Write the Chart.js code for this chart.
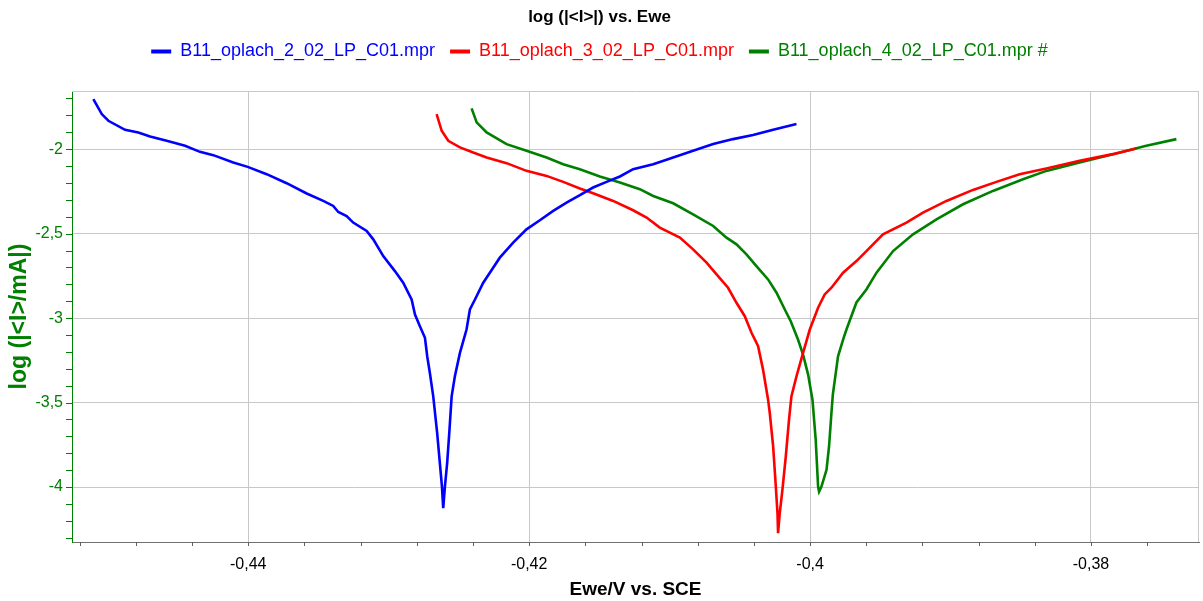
<!DOCTYPE html>
<html><head><meta charset="utf-8">
<script src="https://cdn.jsdelivr.net/npm/chart.js@4/dist/chart.umd.min.js"></script>
<style>html,body{margin:0;padding:0;background:#fff;overflow:hidden}canvas{display:block}</style>
</head><body>
<canvas id="c" width="1203" height="601"></canvas>
<script>
const chartTitle = 'log (|<I>|) vs. Ewe';
const xTitle = 'Ewe/V vs. SCE';
const yTitle = 'log (|<I>/mA|)';
const seriesNames = ['B11_oplach_2_02_LP_C01.mpr', 'B11_oplach_3_02_LP_C01.mpr', 'B11_oplach_4_02_LP_C01.mpr #'];
const seriesColors = ['#0000ff', '#ff0000', '#008000'];

// [Ewe (V), log|I/mA|]
const blueCurve = [
[-0.45103,-1.7035],[-0.45043,-1.7924],[-0.44996,-1.8322],[-0.44877,-1.8855],[-0.44783,-1.9010],
[-0.44699,-1.9247],[-0.44581,-1.9508],[-0.44450,-1.9804],[-0.44344,-2.0160],[-0.44249,-2.0356],
[-0.44107,-2.0789],[-0.44004,-2.1050],[-0.43869,-2.1483],[-0.43727,-2.2017],[-0.43584,-2.2627],
[-0.43466,-2.3066],[-0.43395,-2.3363],[-0.43359,-2.3719],[-0.43300,-2.3956],[-0.43253,-2.4347],
[-0.43157,-2.4846],[-0.43110,-2.5338],[-0.43039,-2.6328],[-0.42956,-2.7218],[-0.42897,-2.7906],
[-0.42837,-2.8897],[-0.42813,-2.9786],[-0.42778,-3.0480],[-0.42742,-3.1168],[-0.42726,-3.2259],
[-0.42707,-3.3244],[-0.42683,-3.4632],[-0.42655,-3.6803],[-0.42636,-3.8582],[-0.42621,-3.9970],
[-0.42612,-4.1251],[-0.42600,-3.9970],[-0.42584,-3.8582],[-0.42569,-3.6803],[-0.42552,-3.4632],
[-0.42529,-3.3445],[-0.42493,-3.2058],[-0.42446,-3.0676],[-0.42422,-2.9490],[-0.42386,-2.8897],
[-0.42327,-2.7906],[-0.42280,-2.7313],[-0.42209,-2.6423],[-0.42114,-2.5534],[-0.42019,-2.4745],
[-0.41924,-2.4211],[-0.41829,-2.3659],[-0.41734,-2.3161],[-0.41639,-2.2728],[-0.41545,-2.2272],
[-0.41449,-2.1939],[-0.41354,-2.1619],[-0.41260,-2.1186],[-0.41117,-2.0890],[-0.40975,-2.0492],
[-0.40833,-2.0101],[-0.40690,-1.9703],[-0.40548,-1.9407],[-0.40406,-1.9170],[-0.40263,-1.8855],
[-0.40097,-1.8517]
];
const redCurve = [
[-0.42659,-1.7924],[-0.42623,-1.8915],[-0.42576,-1.9508],[-0.42493,-1.9899],[-0.42399,-2.0196],
[-0.42303,-2.0492],[-0.42161,-2.0830],[-0.42019,-2.1287],[-0.41876,-2.1584],[-0.41758,-2.1939],
[-0.41639,-2.2331],[-0.41545,-2.2610],[-0.41402,-2.3066],[-0.41260,-2.3618],[-0.41164,-2.4051],
[-0.41070,-2.4644],[-0.40927,-2.5237],[-0.40833,-2.5931],[-0.40737,-2.6720],[-0.40666,-2.7414],
[-0.40584,-2.8203],[-0.40524,-2.9092],[-0.40465,-2.9887],[-0.40417,-3.0871],[-0.40370,-3.1666],
[-0.40335,-3.3048],[-0.40299,-3.4828],[-0.40287,-3.5616],[-0.40263,-3.7597],[-0.40244,-3.9970],
[-0.40232,-4.1548],[-0.40228,-4.2733],[-0.40216,-4.1548],[-0.40197,-4.0165],[-0.40173,-3.8190],
[-0.40150,-3.6014],[-0.40133,-3.4632],[-0.40097,-3.3445],[-0.40050,-3.2058],[-0.40002,-3.0676],
[-0.39943,-2.9389],[-0.39896,-2.8600],[-0.39848,-2.8203],[-0.39765,-2.7313],[-0.39670,-2.6625],
[-0.39599,-2.6032],[-0.39481,-2.5041],[-0.39314,-2.4347],[-0.39196,-2.3754],[-0.39029,-2.3066],
[-0.38840,-2.2414],[-0.38673,-2.1939],[-0.38508,-2.1483],[-0.38318,-2.1145],[-0.38081,-2.0694],
[-0.37844,-2.0297],[-0.37677,-1.9958]
];
const greenCurve = [
[-0.42410,-1.7586],[-0.42374,-1.8416],[-0.42303,-1.9010],[-0.42161,-1.9703],[-0.42019,-2.0101],
[-0.41876,-2.0492],[-0.41758,-2.0890],[-0.41639,-2.1186],[-0.41497,-2.1619],[-0.41354,-2.1975],
[-0.41212,-2.2372],[-0.41117,-2.2770],[-0.40975,-2.3203],[-0.40833,-2.3855],[-0.40690,-2.4549],
[-0.40595,-2.5237],[-0.40524,-2.5634],[-0.40453,-2.6228],[-0.40382,-2.6921],[-0.40299,-2.7710],
[-0.40239,-2.8499],[-0.40180,-2.9490],[-0.40137,-3.0201],[-0.40086,-3.1269],[-0.40050,-3.2159],
[-0.40014,-3.3345],[-0.39983,-3.4828],[-0.39960,-3.7200],[-0.39943,-3.9970],[-0.39936,-4.0266],
[-0.39919,-3.9970],[-0.39883,-3.8979],[-0.39865,-3.7597],[-0.39848,-3.5616],[-0.39838,-3.4531],
[-0.39801,-3.2259],[-0.39765,-3.1269],[-0.39741,-3.0676],[-0.39670,-2.9074],[-0.39599,-2.8303],
[-0.39527,-2.7313],[-0.39409,-2.6032],[-0.39267,-2.5041],[-0.39100,-2.4152],[-0.38911,-2.3262],
[-0.38698,-2.2473],[-0.38484,-2.1779],[-0.38318,-2.1287],[-0.38081,-2.0789],[-0.37844,-2.0297],
[-0.37606,-1.9804],[-0.37392,-1.9407]
];

const xRange = [-0.45255, -0.37231];
const yRange = [-4.325, -1.656];
const xMajorTicks = [-0.44, -0.42, -0.40, -0.38];
const yMajorTicks = [-2, -2.5, -3, -3.5, -4];
const xMinorTicks = [-0.452,-0.448,-0.444,-0.44,-0.436,-0.432,-0.428,-0.424,-0.42,-0.416,-0.412,-0.408,-0.404,-0.4,-0.396,-0.392,-0.388,-0.384,-0.38,-0.376];
const yMinorTicks = [-1.7,-1.8,-1.9,-2,-2.1,-2.2,-2.3,-2.4,-2.5,-2.6,-2.7,-2.8,-2.9,-3,-3.1,-3.2,-3.3,-3.4,-3.5,-3.6,-3.7,-3.8,-3.9,-4,-4.1,-4.2,-4.3];

const fmt = v => String(+v.toFixed(4)).replace('.', ',');
const toPts = arr => arr.map(p => ({x: p[0], y: p[1]}));
const curves = [blueCurve, redCurve, greenCurve];

Chart.defaults.font.family = "'Liberation Sans', Arial, sans-serif";

const framePlugin = {
  id: 'frame',
  beforeDatasetsDraw(chart) {
    const {ctx, chartArea: a} = chart;
    ctx.save();
    ctx.strokeStyle = '#c8c8c8';
    ctx.lineWidth = 1;
    ctx.beginPath();
    ctx.moveTo(a.left, a.top + 0.5); ctx.lineTo(a.right, a.top + 0.5);
    ctx.moveTo(a.right - 0.5, a.top); ctx.lineTo(a.right - 0.5, a.bottom);
    ctx.stroke();
    ctx.restore();
  },
  afterDraw(chart) {
    const {ctx, chartArea: a, scales: {x, y}} = chart;
    ctx.save();
    ctx.lineWidth = 1;
    ctx.strokeStyle = '#606060';
    ctx.beginPath();
    xMinorTicks.forEach(v => {
      const px = Math.round(x.getPixelForValue(v)) + 0.5;
      ctx.moveTo(px, a.bottom); ctx.lineTo(px, a.bottom + 4);
    });
    ctx.stroke();
    ctx.strokeStyle = '#008000';
    ctx.beginPath();
    yMinorTicks.forEach(v => {
      const py = Math.round(y.getPixelForValue(v)) + 0.5;
      ctx.moveTo(a.left - 6, py); ctx.lineTo(a.left, py);
    });
    ctx.stroke();
    ctx.restore();
  }
};

new Chart(document.getElementById('c'), {
  type: 'scatter',
  data: {
    datasets: curves.map((c, i) => ({
      label: seriesNames[i],
      data: toPts(c),
      showLine: true,
      borderColor: seriesColors[i],
      backgroundColor: seriesColors[i],
      borderWidth: 2.6,
      pointRadius: 0,
      tension: 0
    }))
  },
  options: {
    responsive: false,
    animation: false,
    layout: {padding: {left: 0, right: 4, top: 0, bottom: 0}},
    plugins: {
      tooltip: {enabled: false},
      title: {
        display: true, text: chartTitle, color: '#000',
        font: {size: 17, weight: 'bold'}, padding: {top: 7, bottom: 0}
      },
      legend: {
        position: 'top',
        labels: {
          boxWidth: 20, boxHeight: 4, padding: 15, font: {size: 18},
          generateLabels(chart) {
            return chart.data.datasets.map((d, i) => ({
              text: d.label, fillStyle: d.borderColor, strokeStyle: d.borderColor,
              lineWidth: 0, fontColor: d.borderColor, datasetIndex: i, hidden: false
            }));
          }
        }
      }
    },
    scales: {
      x: {
        type: 'linear', position: 'bottom', min: xRange[0], max: xRange[1],
        afterBuildTicks: s => { s.ticks = xMajorTicks.map(v => ({value: v})); },
        afterFit: s => { s.height = 59; },
        grid: {color: '#c8c8c8', lineWidth: 1, drawTicks: false},
        border: {display: true, color: '#707070', width: 1},
        ticks: {color: '#000', font: {size: 16}, padding: 13, maxRotation: 0, autoSkip: false, callback: v => fmt(v)},
        title: {display: true, text: xTitle, color: '#000', font: {size: 19, weight: 'bold'}, padding: {top: 0, bottom: 0}}
      },
      spacer: {
        type: 'linear', axis: 'x', position: 'top', display: true,
        grid: {display: false}, border: {display: false}, ticks: {display: false},
        afterFit: s => { s.height = 20.6; }
      },
      y: {
        type: 'linear', position: 'left', min: yRange[0], max: yRange[1],
        afterBuildTicks: s => { s.ticks = yMajorTicks.map(v => ({value: v})); },
        afterFit: s => { s.width = 72; },
        grid: {color: '#c8c8c8', lineWidth: 1, drawTicks: false},
        border: {display: true, color: '#008000', width: 1},
        ticks: {color: '#008000', font: {size: 16}, padding: 9, callback: v => fmt(v)},
        title: {display: true, text: yTitle, color: '#008000', font: {size: 23, weight: 'bold'}, padding: {top: 6, bottom: 0}}
      }
    }
  },
  plugins: [framePlugin]
});
</script>
</body></html>
